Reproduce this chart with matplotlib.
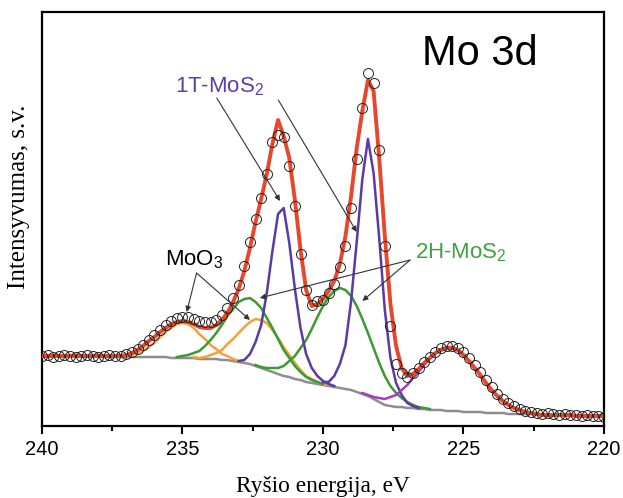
import numpy as np
import matplotlib
matplotlib.use("Agg")
import matplotlib.pyplot as plt

# binding energy grid of the scan, eV (0.2 eV step, high to low)
energy = np.round(np.arange(240.0, 219.9, -0.2), 1)

# measured Mo 3d / S 2s counts (arb. units)
measured = [
    70, 71, 69, 70, 71, 70, 69, 70, 71, 70, 69, 70, 71, 70, 70,
    72, 74, 77, 81, 86, 91, 96, 101, 105, 108, 109, 109, 107, 105, 104,
    104, 106, 111, 118, 128, 141, 160, 184, 207, 228, 252, 284, 291, 289, 260,
    220, 172, 136, 121, 125, 126, 133, 142, 159, 180, 218, 267, 318, 353, 343,
    276, 180, 100, 62, 53, 49, 53, 58, 64, 69, 74, 78, 80, 80, 78,
    74, 68, 61, 54, 46, 39, 32, 27, 23, 20, 17, 15, 14, 13, 12,
    13, 12, 11, 12, 11, 11, 10, 11, 10, 10, 9,
]

# fitted envelope
fit_sum = [
    70, 70, 70, 70, 70, 70, 70, 70, 70, 70, 70, 70, 70, 70, 70,
    71, 73, 76, 80, 85, 89, 94, 98, 102, 104, 105, 104, 102, 99, 98,
    98, 101, 106, 113, 124, 137, 155, 178, 204, 227, 252, 282, 306, 290, 268,
    226, 176, 136, 120, 122, 127, 135, 145, 162, 190, 230, 278, 315, 346, 335,
    268, 190, 122, 80, 58, 50, 52, 57, 63, 68, 73, 76, 78, 78, 76,
    71, 65, 58, 51, 43, 36, 30, 25, 21, 18, 16, 14, 13, 12, 11,
    11, 11, 11, 11, 11, 10, 10, 10, 10, 10, 10,
]

# Shirley-type background
background = [
    70, 70, 70, 70, 70, 70, 70, 70, 70, 70, 70, 69, 69, 69, 69,
    69, 69, 69, 69, 69, 69, 69, 69, 68, 68, 68, 68, 68, 67, 67,
    67, 67, 66, 66, 65, 64, 63, 62, 60, 58, 56, 54, 52, 50, 49,
    47, 46, 44, 43, 42, 41, 40, 39, 38, 37, 36, 34, 32, 30, 27,
    24, 21, 20, 19, 19, 18, 18, 17, 17, 16, 16, 16, 15, 15, 15,
    14, 14, 14, 14, 13, 13, 13, 13, 12, 12, 12, 12, 12, 11, 11,
    11, 11, 11, 11, 11, 10, 10, 10, 10, 10, 10,
]

# fitted components above background: (first energy, values)
moo3_a = (237.0, [1, 2, 4, 6, 10, 14, 20, 25, 30, 34, 35, 34, 30, 25, 20, 14, 10, 6, 4, 2, 1])
moo3_b = (234.6, [1, 1, 2, 4, 6, 10, 16, 22, 29, 36, 42, 47, 48, 47, 42, 36, 29, 22, 16, 10,
                  6, 4, 2, 1, 1])
mos2_2h_a = (235.2, [1, 2, 3, 5, 8, 13, 19, 26, 35, 44, 52, 60, 64, 66, 64, 60, 52, 44, 35, 26,
                     19, 13, 8, 5, 3, 2, 1])
mos2_2h_b = (232.4, [1, 1, 2, 4, 6, 10, 16, 23, 32, 42, 54, 67, 79, 89, 96, 100, 99, 94, 86, 75,
                     63, 51, 39, 29, 20, 14, 9, 6, 3, 2, 1, 1])
mos2_1t_a = (233.0, [1, 3, 10, 24, 43, 77, 121, 160, 168, 134, 90, 52, 28, 15, 8, 4, 2, 1])
mos2_1t_b = (230.0, [3, 4, 11, 24, 44, 89, 150, 215, 257, 226, 164, 95, 48, 24, 12, 5, 2, 1])
s_2s = (228.6, [1, 1, 2, 4, 6, 9, 12, 17, 23, 30, 37, 44, 51, 57, 61, 64, 64, 61, 57, 51,
                44, 37, 30, 23, 17, 12, 9, 6, 4, 2, 1, 1])

RED = "#e8472b"
PURPLE = "#5b3aa6"
GREEN = "#3c9a33"
ORANGE = "#f5a03a"
MAGENTA = "#a53cc0"
GREY = "#8e8e8e"

plt.rcParams["font.family"] = ["Liberation Sans", "DejaVu Sans"]
plt.rcParams["mathtext.default"] = "regular"

fig = plt.figure(figsize=(6.23, 4.98), dpi=100)
ax = fig.add_axes([42 / 623, 72 / 498, 562 / 623, 414 / 498])

bg = np.array(background, dtype=float)


def component(start, values):
    i0 = int(round((240.0 - start) / 0.2))
    i1 = i0 + len(values)
    return energy[i0:i1], bg[i0:i1] + np.array(values, dtype=float)


ax.plot(energy, bg, color=GREY, lw=1.8, zorder=2)
for comp, col in [(moo3_a, ORANGE), (moo3_b, ORANGE),
                  (mos2_2h_a, GREEN), (mos2_2h_b, GREEN),
                  (mos2_1t_a, PURPLE), (mos2_1t_b, PURPLE),
                  (s_2s, MAGENTA)]:
    x, y = component(*comp)
    ax.plot(x, y, color=col, lw=1.8, zorder=3)

ax.plot(energy, fit_sum, color=RED, lw=2.8, zorder=4)
ax.plot(energy, measured, "o", mfc="none", mec="#222222", ms=7.2, mew=0.7, zorder=5)

arrow = dict(arrowstyle="-|>", color="#333333", lw=0.8, mutation_scale=8,
             shrinkA=0, shrinkB=0)

ax.text(235.27, 334, "1T-MoS$_2$", color="#5a3eb0", fontsize=16, zorder=6)
ax.annotate("", xy=(231.53, 225), xytext=(233.78, 328), arrowprops=arrow, zorder=6)
ax.annotate("", xy=(228.8, 194), xytext=(231.59, 326), arrowprops=arrow, zorder=6)

ax.text(235.62, 161, "MoO$_3$", color="black", fontsize=16, zorder=6)
ax.annotate("", xy=(234.85, 114), xytext=(234.5, 153), arrowprops=arrow, zorder=6)
ax.annotate("", xy=(232.6, 106), xytext=(234.5, 153), arrowprops=arrow, zorder=6)

ax.text(226.73, 168, "2H-MoS$_2$", color="#3da33d", fontsize=16, zorder=6)
ax.annotate("", xy=(232.25, 128), xytext=(226.9, 166), arrowprops=arrow, zorder=6)
ax.annotate("", xy=(228.6, 125), xytext=(226.9, 166), arrowprops=arrow, zorder=6)

ax.text(226.48, 361, "Mo 3d", color="black", fontsize=30, zorder=6)

ax.set_xlim(240, 220)
ax.set_ylim(0, 414)
ax.set_xticks([240, 235, 230, 225, 220])
ax.set_xticks([237.5, 232.5, 227.5, 222.5], minor=True)
ax.set_yticks([])
ax.tick_params(axis="x", which="major", direction="out", length=6, width=1.5,
               labelsize=14.5, pad=4)
ax.tick_params(axis="x", which="minor", direction="out", length=3.5, width=1.5)
for sp in ax.spines.values():
    sp.set_linewidth(1.6)

ax.set_xlabel("Ryšio energija, eV", family=["Liberation Serif"], fontsize=16.8, labelpad=12)
ax.set_ylabel("Intensyvumas, s.v.", family=["Liberation Serif"], fontsize=18)
ax.yaxis.set_label_coords(-0.021, 0.553)

fig.savefig("out.png", dpi=100)
